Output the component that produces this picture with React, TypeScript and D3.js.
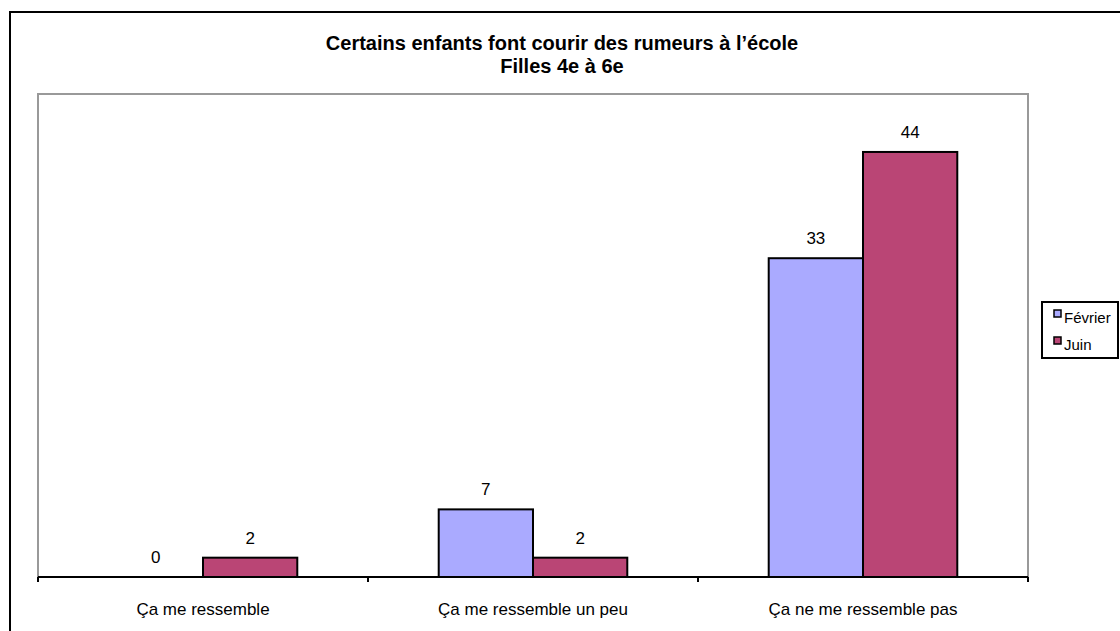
import React from "react";
import * as d3 from "d3";

const categories = ["Ça me ressemble", "Ça me ressemble un peu", "Ça ne me ressemble pas"];
const seriesNames = ["Février", "Juin"];
const fevrier = [0, 7, 33];
const juin = [2, 2, 44];
const colors = ["#AAAAFF", "#BA4575"];
const titleLines = ["Certains enfants font courir des rumeurs à l’école", "Filles 4e à 6e"];

const W = 1120, H = 631;
const plot = { left: 38, top: 94, right: 1028, bottom: 577 };
const font = "'Liberation Sans', Arial, sans-serif";

export default function App() {
  const x = d3.scaleBand().domain(categories).range([plot.left, plot.right]).paddingInner(0).paddingOuter(0);
  const y = d3.scaleLinear().domain([0, 50]).range([plot.bottom, plot.top]);
  const bw = x.bandwidth() / 3.5;
  const series = [fevrier, juin];

  return (
    <svg width={W} height={H} style={{ position: "fixed", left: 0, top: 0, background: "#fff" }}>
      <rect x={0} y={0} width={W} height={H} fill="#fff" />
      <rect x={10} y={12} width={1140} height={660} fill="none" stroke="#000" strokeWidth={2} />
      {titleLines.map((t, i) => (
        <text key={i} x={562} y={50 + i * 23} textAnchor="middle" fontFamily={font} fontWeight="bold" fontSize={20} fill="#000">{t}</text>
      ))}
      <rect x={plot.left} y={plot.top} width={plot.right - plot.left} height={plot.bottom - plot.top} fill="none" stroke="#999" strokeWidth={2} />
      {series.map((vals, si) =>
        categories.map((c, ci) => {
          const v = vals[ci];
          const bx = (x(c) as number) + 0.75 * bw + si * bw;
          const by = y(v);
          return (
            <g key={`${si}-${ci}`}>
              {v > 0 && (
                <rect x={bx} y={by} width={bw} height={y(0) - by} fill={colors[si]} stroke="#000" strokeWidth={2} />
              )}
              <text x={bx + bw / 2} y={by - 14} textAnchor="middle" fontFamily={font} fontSize={17} fill="#000">{v}</text>
            </g>
          );
        })
      )}
      <line x1={plot.left} x2={plot.right} y1={plot.bottom} y2={plot.bottom} stroke="#000" strokeWidth={2} />
      {[...categories.map((c) => x(c) as number), plot.right].map((t, i) => (
        <line key={i} x1={t} x2={t} y1={plot.bottom} y2={plot.bottom + 5} stroke="#000" strokeWidth={2} />
      ))}
      {categories.map((c) => (
        <text key={c} x={(x(c) as number) + x.bandwidth() / 2} y={615} textAnchor="middle" fontFamily={font} fontSize={17} fill="#000">{c}</text>
      ))}
      <rect x={1042} y={302} width={76} height={56} fill="#fff" stroke="#000" strokeWidth={2} />
      {seriesNames.map((s, i) => (
        <g key={s}>
          <rect x={1054} y={314 + i * 27 - 4} width={7} height={7} fill={colors[i]} stroke="#000" strokeWidth={1.5} />
          <text x={1064} y={323 + i * 27} fontFamily={font} fontSize={15} fill="#000">{s}</text>
        </g>
      ))}
    </svg>
  );
}
